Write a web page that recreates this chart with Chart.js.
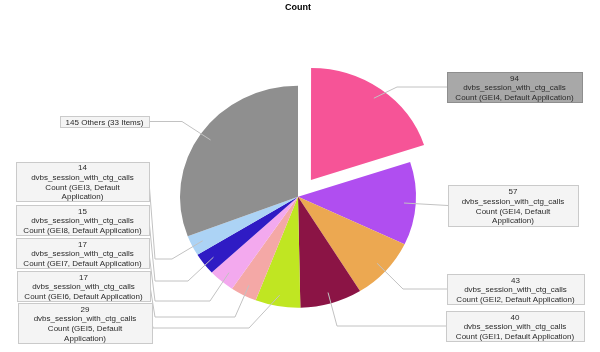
<!DOCTYPE html>
<html><head><meta charset="utf-8">
<script src="https://cdn.jsdelivr.net/npm/chart.js@4/dist/chart.umd.min.js"></script>
<style>html,body{margin:0;padding:0;background:#fff}</style>
</head><body>
<canvas id="c" width="600" height="352"></canvas>
<script>
// ---- data ----
const categories = [
  ["dvbs_session_with_ctg_calls", "Count (GEI4, Default Application)"],
  ["dvbs_session_with_ctg_calls", "Count (GEI4, Default", "Application)"],
  ["dvbs_session_with_ctg_calls", "Count (GEI2, Default Application)"],
  ["dvbs_session_with_ctg_calls", "Count (GEI1, Default Application)"],
  ["dvbs_session_with_ctg_calls", "Count (GEI5, Default", "Application)"],
  ["dvbs_session_with_ctg_calls", "Count (GEI6, Default Application)"],
  ["dvbs_session_with_ctg_calls", "Count (GEI7, Default Application)"],
  ["dvbs_session_with_ctg_calls", "Count (GEI8, Default Application)"],
  ["dvbs_session_with_ctg_calls", "Count (GEI3, Default", "Application)"],
  ["Others (33 Items)"]
];
const values = [94, 57, 43, 40, 29, 17, 17, 15, 14, 145];
const othersIndex = 9;

// ---- style ----
const colors = ['#f65497','#b04ef0','#eca851','#8b1445','#c0e622','#f4a8a6','#f3a9ee','#2f1bc4','#acd3f5','#8f8f8f'];
const Y_SCALE = 111 / 118;

// label box layout (x, y, w, h) and connector route after the slice anchor point
const boxLayout = [
  {x:447, y:72,  w:135, h:30, fill:'#a8a8a8', stroke:'#8e8e8e', route:[[397,87],[447,87]]},
  {x:448, y:185, w:130, h:41, route:[[448,205.5]]},
  {x:447, y:274, w:137, h:30, route:[[403,289],[447,289]]},
  {x:446, y:311, w:138, h:30, route:[[337,326],[446,326]]},
  {x:18,  y:303, w:134, h:40, route:[[249,328],[153,328],[152,323]]},
  {x:17,  y:271, w:133, h:30, route:[[235,317],[155,317],[150,286]]},
  {x:16,  y:238, w:133, h:30, route:[[210,301],[155,301],[149,253]]},
  {x:16,  y:205, w:133, h:30, route:[[188,281],[155,281],[149,220]]},
  {x:16,  y:162, w:133, h:39, route:[[172,259],[155,259],[149,181.5]]},
  {x:60,  y:116, w:89,  h:11, route:[[182,121.5],[149,121.5]]}
];

function boxLines(i){
  if (i === othersIndex) return [values[i] + ' ' + categories[i][0]];
  return [String(values[i])].concat(categories[i]);
}

const ellipsePlugin = {
  id: 'ellipse',
  beforeDatasetsDraw(chart){
    const a = chart.getDatasetMeta(0).data[0];
    const ctx = chart.ctx;
    ctx.save();
    ctx.translate(a.x, a.y); ctx.scale(1, Y_SCALE); ctx.translate(-a.x, -a.y);
  },
  afterDatasetsDraw(chart){ chart.ctx.restore(); }
};

const calloutPlugin = {
  id: 'callouts',
  afterDraw(chart){
    const ctx = chart.ctx;
    const meta = chart.getDatasetMeta(0);
    ctx.save();
    ctx.strokeStyle = '#c2c2c2';
    ctx.lineWidth = 1;
    meta.data.forEach((arc, i) => {
      const mid = (arc.startAngle + arc.endAngle) / 2;
      const off = (arc.options.offset || 0) / 4 * (1 + (1 - Math.sin(Math.min(Math.PI, arc.circumference))));
      const d = arc.outerRadius * 0.9 + off;
      const sx = arc.x + Math.cos(mid) * d;
      const sy = arc.y + Math.sin(mid) * d * Y_SCALE;
      ctx.beginPath();
      ctx.moveTo(sx, sy);
      boxLayout[i].route.forEach(p => ctx.lineTo(p[0], p[1]));
      ctx.stroke();
    });
    ctx.font = '8px "Liberation Sans", Arial, sans-serif';
    ctx.textAlign = 'center';
    ctx.textBaseline = 'middle';
    boxLayout.forEach((b, i) => {
      ctx.fillStyle = b.fill || '#f4f4f4';
      ctx.fillRect(b.x + 0.5, b.y + 0.5, b.w, b.h);
      ctx.strokeStyle = b.stroke || '#cacaca';
      ctx.strokeRect(b.x + 0.5, b.y + 0.5, b.w, b.h);
      const lines = boxLines(i);
      const lh = 9.6;
      const cy = b.y + b.h / 2 + 1;
      ctx.fillStyle = '#2a2a2a';
      lines.forEach((t, k) => {
        ctx.fillText(t, b.x + b.w / 2, cy + (k - (lines.length - 1) / 2) * lh);
      });
    });
    ctx.restore();
  }
};

new Chart(document.getElementById('c'), {
  type: 'pie',
  data: {
    labels: categories.map(c => c.join(' ')),
    datasets: [{
      data: values,
      backgroundColor: colors,
      borderWidth: 0,
      offset: values.map((v, i) => i === 0 ? 88 : 0),
      clip: false
    }]
  },
  options: {
    responsive: false,
    animation: false,
    radius: 118,
    layout: { padding: { top: 0, bottom: 0, left: 0, right: 4 } },
    plugins: {
      legend: { display: false },
      tooltip: { enabled: false },
      title: {
        display: true, text: 'Count', color: '#000',
        font: { family: '"Liberation Sans", Arial, sans-serif', size: 9, weight: 'bold' },
        padding: { top: 2, bottom: 28.6 }
      }
    }
  },
  plugins: [ellipsePlugin, calloutPlugin]
});
</script>
</body></html>
